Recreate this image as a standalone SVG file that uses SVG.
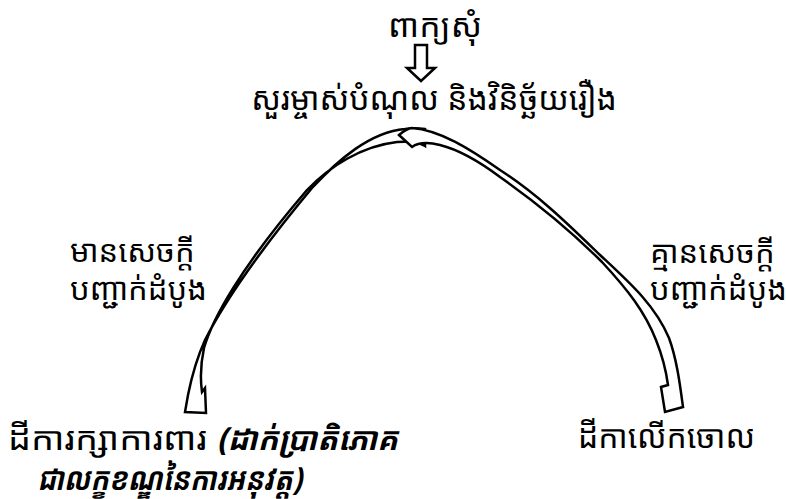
<svg xmlns="http://www.w3.org/2000/svg" width="786" height="499" viewBox="0 0 786 499">
<style>
.t{font-family:"Noto Sans Khmer","Khmer OS","Noto Sans","DejaVu Sans",sans-serif;font-size:32px;fill:#000}
.s{font-size:31px}
.bi{font-style:italic;font-weight:bold}
.band{fill:#fff;stroke:#000;stroke-width:2.5;stroke-linejoin:miter}
</style>
<rect width="786" height="499" fill="#fff"/>
<g id="connectors">
<path id="down-arrow" class="band" d="M415,45 L427,45 L427,68 L435,68 L421,81 L407,68 L415,68 Z"/>
<path id="arc-left" class="band" d="M425,129 C418,128 411,128 405,129 C370,132 338,160 312,188 C272,236 228,295 205,340 C196,360 191,380 188,395 L185,412 L206,413 L205,388 L202,392 C200,378 201,362 204,348 C212,320 240,268 307,190 C330,166 362,146 397,142 C410,141 420,143 425,146 Z"/>
<path id="arc-right" class="band" d="M399,135 L412,147 C419,142 428,142 440,145 C460,150 480,162 500,177 C540,205 572,232 602,262 C628,290 645,312 656,340 C662,355 666,370 668,385 L661,387 L665,412 L683,407 C680,385 677,360 669,338 C655,305 630,283 600,255 C570,226 540,196 500,170 C470,149 440,130 412,128 C408,128 405,130 399,135 Z"/>
</g>
<g id="n-request"><text class="t" x="388" y="37" textLength="94" lengthAdjust="spacingAndGlyphs">ពាក្យសុំ</text></g>
<g id="n-question"><text class="t" x="434" y="110" text-anchor="middle">សួរម្ចាស់បំណុល និងវិនិច្ឆ័យរឿង</text></g>
<g id="l-left"><text class="t s" x="70" y="262">មានសេចក្តី</text><text class="t s" x="70" y="300">បញ្ជាក់ដំបូង</text></g>
<g id="l-right"><text class="t s" x="650" y="263">គ្មានសេចក្តី</text><text class="t s" x="650" y="300">បញ្ជាក់ដំបូង</text></g>
<g id="n-protect"><text class="t" x="8" y="450" textLength="199" lengthAdjust="spacingAndGlyphs">ដីការក្សាការពារ</text><text class="t bi" x="217" y="450" textLength="181" lengthAdjust="spacingAndGlyphs">(ដាក់ប្រាតិភោគ</text><text class="t bi" x="37" y="490" textLength="265" lengthAdjust="spacingAndGlyphs">ជាលក្ខខណ្ឌនៃការអនុវត្ត)</text></g>
<g id="n-dismiss"><text class="t" x="578" y="448" textLength="177" lengthAdjust="spacingAndGlyphs">ដីកាលើកចោល</text></g>
</svg>
